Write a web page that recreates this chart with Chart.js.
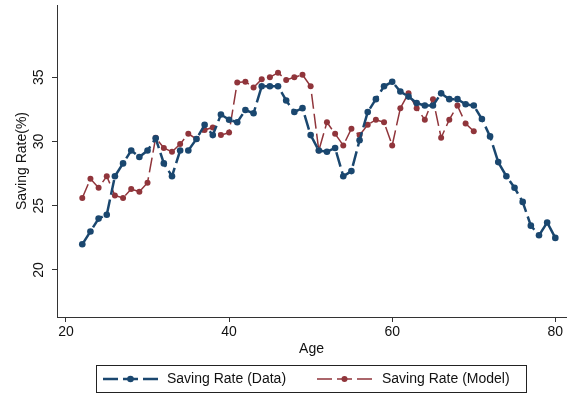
<!DOCTYPE html>
<html>
<head>
<meta charset="utf-8">
<title>Saving Rate by Age</title>
<script src="https://cdn.jsdelivr.net/npm/chart.js@4.4.1/dist/chart.umd.min.js"></script>
<style>
    html, body { margin: 0; padding: 0; background: #fff; }
    #wrap { width: 570px; height: 396px; position: relative; }
</style>
</head>
<body>
<div id="wrap"><canvas id="saving"></canvas></div>
<script>
var ages = [22, 23, 24, 25, 26, 27, 28, 29, 30, 31, 32, 33, 34, 35, 36, 37, 38, 39, 40,
    41, 42, 43, 44, 45, 46, 47, 48, 49, 50, 51, 52, 53, 54, 55, 56, 57, 58, 59, 60,
    61, 62, 63, 64, 65, 66, 67, 68, 69, 70, 71, 72, 73, 74, 75, 76, 77, 78, 79, 80];

// saving rate observed, ages 22-80
var rateData = [22.0, 23.0, 24.0, 24.3, 27.3, 28.3, 29.3, 28.8, 29.3, 30.25, 28.3, 27.3, 29.3, 29.3, 30.2, 31.3, 30.5, 32.1, 31.7,
    31.5, 32.45, 32.2, 34.3, 34.3, 34.3, 33.2, 32.3, 32.6, 30.5, 29.3, 29.2, 29.5, 27.3, 27.7, 30.1, 32.3, 33.3, 34.3, 34.66,
    33.9, 33.5, 33.0, 32.8, 32.8, 33.75, 33.3, 33.3, 32.9, 32.8, 31.75, 30.4, 28.4, 27.3, 26.4, 25.3, 23.45, 22.7, 23.7, 22.5];

// saving rate from the model, ages 22-70
var rateModel = [25.6, 27.1, 26.4, 27.3, 25.8, 25.6, 26.3, 26.1, 26.8, 30.3, 29.5, 29.2, 29.8, 30.6, 30.2, 30.9, 31.1, 30.5, 30.7,
    34.6, 34.66, 34.2, 34.85, 35.0, 35.36, 34.8, 35.0, 35.2, 34.3, 29.3, 31.5, 30.6, 29.7, 31.0, 30.5, 31.3, 31.7, 31.5, 29.7,
    32.6, 33.75, 32.6, 31.7, 33.3, 30.3, 31.7, 32.8, 31.4, 30.8];

var xTicks = [20, 40, 60, 80];
var yTicks = [20, 25, 30, 35];
var seriesNames = ['Saving Rate (Data)', 'Saving Rate (Model)'];

var navy = '#1a476f';
var maroon = '#90353b';
var axisColor = '#333';
var fontFamily = '"Liberation Sans", Arial, sans-serif';

function toPoints(vals) {
    return vals.map(function(v, i) {
        return { x: ages[i], y: v };
    });
}

// y tick labels are vertical in the original
var verticalTicks = {
    id: 'verticalTicks',
    afterDraw: function(chart) {
        var ctx = chart.ctx;
        var y = chart.scales.y;
        ctx.save();
        ctx.fillStyle = '#111';
        ctx.font = '14px ' + fontFamily;
        ctx.textAlign = 'center';
        ctx.textBaseline = 'middle';
        yTicks.forEach(function(v) {
            ctx.save();
            ctx.translate(39, y.getPixelForValue(v));
            ctx.rotate(-Math.PI / 2);
            ctx.fillText(String(v), 0, 0);
            ctx.restore();
        });
        ctx.restore();
    }
};

// boxed legend below the axis title
var boxLegend = {
    id: 'boxLegend',
    afterDraw: function(chart) {
        var ctx = chart.ctx;
        var items = [
            { x0: 103, x1: 158, tx: 167, color: navy, width: 2.5, dot: 3.3 },
            { x0: 317, x1: 372, tx: 382, color: maroon, width: 1.5, dot: 3 }
        ];
        var cy = 379;
        ctx.save();
        ctx.strokeStyle = '#222';
        ctx.lineWidth = 1;
        ctx.strokeRect(96.5, 365.5, 430, 27);
        items.forEach(function(it, i) {
            ctx.strokeStyle = it.color;
            ctx.lineWidth = it.width;
            ctx.setLineDash([15, 5]);
            ctx.beginPath();
            ctx.moveTo(it.x0, cy);
            ctx.lineTo(it.x1, cy);
            ctx.stroke();
            ctx.setLineDash([]);
            ctx.fillStyle = it.color;
            ctx.beginPath();
            ctx.arc((it.x0 + it.x1) / 2, cy, it.dot, 0, Math.PI * 2);
            ctx.fill();
            ctx.fillStyle = '#111';
            ctx.font = '14px ' + fontFamily;
            ctx.textAlign = 'left';
            ctx.textBaseline = 'middle';
            ctx.fillText(seriesNames[i], it.tx, cy);
        });
        ctx.restore();
    }
};

Chart.defaults.font.family = fontFamily;
Chart.defaults.font.size = 14;
Chart.defaults.color = '#111';

var ctx = document.getElementById('saving').getContext('2d');
var chart = new Chart(ctx, {
    type: 'line',
    data: {
        datasets: [{
            label: seriesNames[0],
            data: toPoints(rateData),
            borderColor: navy,
            backgroundColor: navy,
            borderWidth: 2.5,
            borderDash: [15, 5],
            pointRadius: 3.3,
            pointBorderWidth: 0,
            tension: 0
        }, {
            label: seriesNames[1],
            data: toPoints(rateModel),
            borderColor: maroon,
            backgroundColor: maroon,
            borderWidth: 1.5,
            borderDash: [15, 5],
            pointRadius: 3,
            pointBorderWidth: 0,
            tension: 0
        }]
    },
    options: {
        responsive: true,
        maintainAspectRatio: false,
        animation: false,
        layout: { padding: { top: 5, right: 3.3, bottom: 38.6, left: 0 } },
        plugins: {
            legend: { display: false },
            tooltip: { enabled: false }
        },
        scales: {
            x: {
                type: 'linear',
                min: 18.9,
                max: 81.31,
                afterBuildTicks: function(scale) {
                    scale.ticks = xTicks.map(function(v) { return { value: v }; });
                },
                afterFit: function(scale) { scale.height = 40.4; },
                ticks: { padding: 2, autoSkip: false, maxRotation: 0 },
                grid: { drawOnChartArea: false, drawTicks: true, tickLength: 5, color: axisColor, lineWidth: 1 },
                border: { display: true, color: axisColor, width: 1 },
                title: { display: true, text: 'Age', padding: { top: 0, bottom: 0 } }
            },
            y: {
                type: 'linear',
                min: 16.34,
                max: 40.63,
                afterBuildTicks: function(scale) {
                    scale.ticks = yTicks.map(function(v) { return { value: v }; });
                },
                afterFit: function(scale) { scale.width = 57; },
                // drawn rotated by the plugin, keep these tiny so they add no padding
                ticks: { color: 'rgba(0,0,0,0)', padding: 0, font: { size: 1 } },
                grid: { drawOnChartArea: false, drawTicks: true, tickLength: 5, color: axisColor, lineWidth: 1 },
                border: { display: true, color: axisColor, width: 1 },
                title: { display: true, text: 'Saving Rate(%)', padding: { top: 13.6, bottom: 0 } }
            }
        }
    },
    plugins: [verticalTicks, boxLegend]
});
</script>
</body>
</html>
